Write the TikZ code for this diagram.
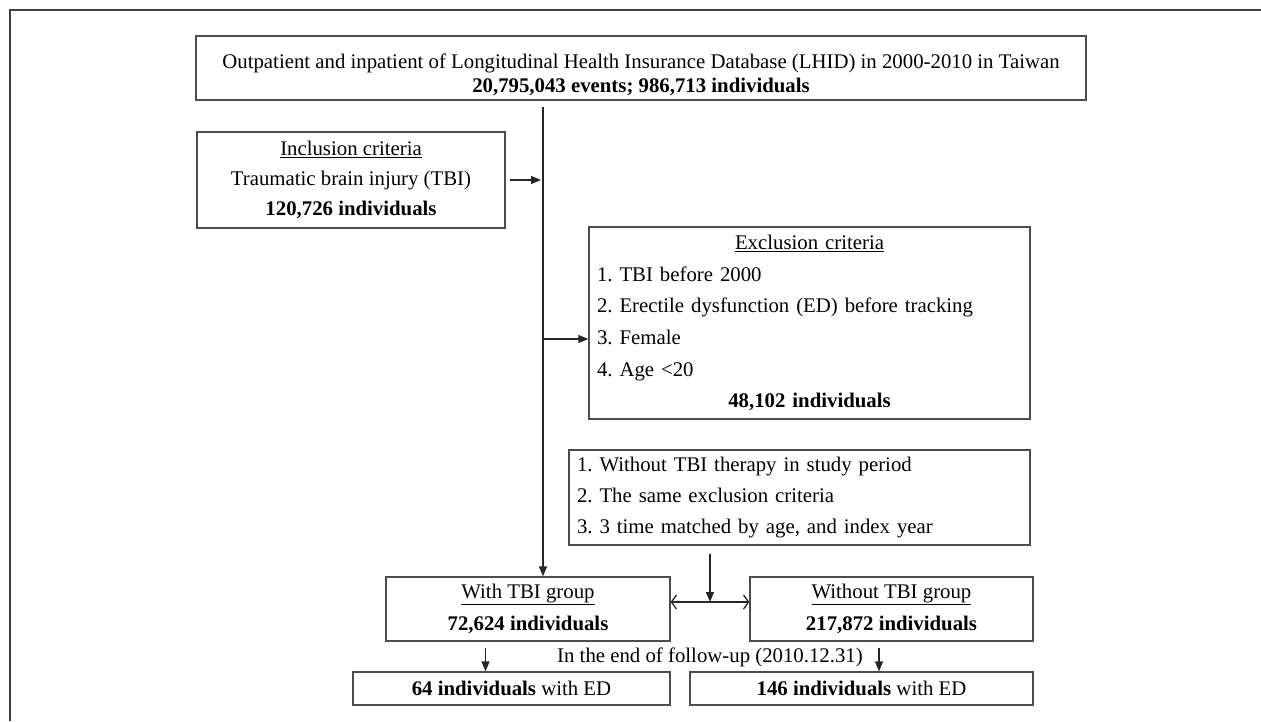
\documentclass[tikz,border=0pt]{standalone}
\usepackage{fontspec}
\setmainfont{Liberation Serif}
\usetikzlibrary{arrows.meta,calc}
\tikzset{
  box/.style={draw=black!70, line width=1.3pt, inner sep=0pt,
    font=\fontsize{20.8}{30}\selectfont},
  arr/.style={-{Triangle[length=10pt,width=8pt]}, line width=1.3pt, black!85},
  dbl/.style={{Straight Barb[length=5pt,width=14pt]}-{Straight Barb[length=5pt,width=14pt]},
    line width=1.3pt, black!85},
  frame/.style={line width=2.5pt, black!75}
}

\begin{document}
\frenchspacing
\begin{tikzpicture}[x=1pt,y=-1pt]
            \useasboundingbox (0,0) rectangle (1261,721);
            % frame round the figure
            \draw[frame] (10,721) -- (10,10) -- (1261,10);

            % boxes of the cohort
            \node[box, minimum width=890pt, minimum height=64pt, align=center,
              font=\fontsize{20.8}{24}\selectfont] (src) at (641,68)
              {\rule{0pt}{28pt}Outpatient and inpatient of Longitudinal Health Insurance Database (LHID) in 2000-2010 in Taiwan\\
               \textbf{20,795,043 events; 986,713 individuals}};
            \node[box, minimum width=308pt, minimum height=96pt, align=center] (incl) at (351,180)
              {\underline{Inclusion criteria}\\ Traumatic brain injury (TBI)\\ \textbf{120,726 individuals}};
            \node[box, text width=425pt, inner xsep=8pt, minimum height=192pt, align=left,
              font=\fontsize{20.8}{31.6}\selectfont] (excl) at (809.5,323)
              {\makebox[\hsize][c]{\underline{Exclusion criteria}}\\
               1. TBI before 2000\\
               2. Erectile dysfunction (ED) before tracking\\
               3. Female\\
               4. Age <20\\
               \makebox[\hsize][c]{\textbf{48,102 individuals}}};
            \node[box, text width=445pt, inner xsep=8pt, minimum height=95pt, align=left,
              font=\fontsize{20.8}{31}\selectfont] (match) at (799.5,497.5)
              {1. Without TBI therapy in study period\\
               2. The same exclusion criteria\\
               3. 3 time matched by age, and index year};

            % groups
            \node[box, minimum width=284pt, minimum height=64pt, align=center,
              font=\fontsize{20.8}{32}\selectfont] (tbi) at (528,609)
              {\underline{With TBI group}\\ \textbf{72,624 individuals}};
            \node[box, minimum width=283pt, minimum height=64pt, align=center,
              font=\fontsize{20.8}{32}\selectfont] (notbi) at (891.5,609)
              {\underline{Without TBI group}\\ \textbf{217,872 individuals}};

            % end of follow-up
            \node[font=\fontsize{20.8}{24}\selectfont] (fup) at (710,657) {In the end of follow-up (2010.12.31)};
            \node[box, minimum width=317pt, minimum height=33pt] (edA) at (511.5,688.5)
              {\textbf{64 individuals} with ED};
            \node[box, minimum width=343pt, minimum height=33pt] (edB) at (861.5,688.5)
              {\textbf{146 individuals} with ED};

            % trunk and side arrows
            \coordinate (trunk) at (543,107);
            \draw[arr] (trunk) -- (trunk |- tbi.north);
            \draw[arr, shorten <=4pt, shorten >=2pt] (incl.east) -- (incl.east -| trunk);
            \coordinate (exin) at ([yshift=-16pt]excl.west);
            \draw[arr] (exin -| trunk) -- (exin);

            % matching into both groups
            \coordinate (mid) at ($(tbi.east)!0.5!(notbi.west)+(0,-7)$);
            \coordinate (mtop) at ([yshift=-8pt]match.south);
            \draw[dbl] (tbi.east |- mid) -- (notbi.west |- mid);
            \draw[arr] (mtop -| mid) -- (mid);

            % outcome arrows
            \draw[arr] ([xshift=-26pt,yshift=23pt]edA.north) -- ([xshift=-26pt]edA.north);
            \draw[arr] ([xshift=17.5pt,yshift=23pt]edB.north) -- ([xshift=17.5pt]edB.north);
\end{tikzpicture}
\end{document}
